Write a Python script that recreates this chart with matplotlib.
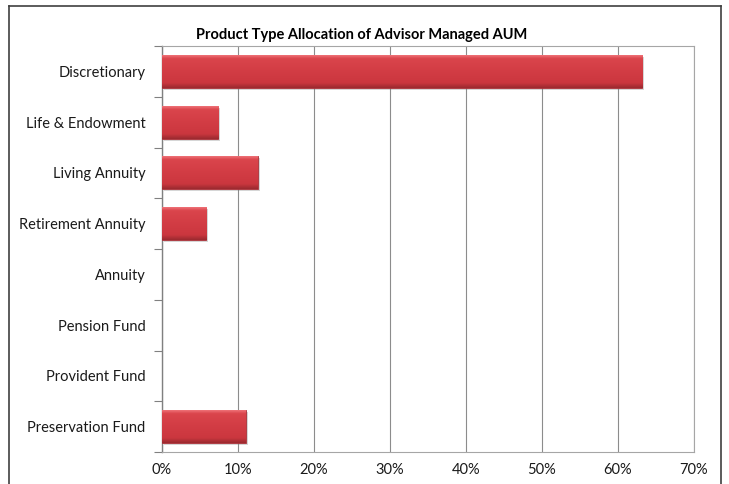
import matplotlib
matplotlib.use("Agg")
import matplotlib.pyplot as plt
import numpy as np
from matplotlib.colors import LinearSegmentedColormap
from matplotlib.lines import Line2D
from matplotlib.ticker import FuncFormatter

categories = ["Discretionary", "Life & Endowment", "Living Annuity", "Retirement Annuity",
              "Annuity", "Pension Fund", "Provident Fund", "Preservation Fund"]
values = [63.2, 7.4, 12.6, 5.8, 0.0, 0.0, 0.0, 11.0]
x_ticks = [0, 10, 20, 30, 40, 50, 60, 70]
title = "Product Type Allocation of Advisor Managed AUM"

plt.rcParams['font.family'] = ['Lato', 'DejaVu Sans']

fig = plt.figure(figsize=(7.29, 4.84), dpi=100)
ax = fig.add_axes([162/729, (484-452)/484, (694-162)/729, (452-46)/484])

n = len(categories)
ypos = np.arange(n)[::-1]
cmap = LinearSegmentedColormap.from_list("barg", [
    (0.0, "#EE7177"), (0.1, "#DA454C"), (0.5, "#D23C44"), (0.85, "#CB373F"), (1.0, "#9C2A30")])
grad = np.linspace(0, 1, 64).reshape(-1, 1)
h = 0.65
nz = [v > 0 for v in values]
# shadows
ax.barh(ypos - 0.04, values, height=h, left=0.25, color="#7A7A7A", alpha=0.30,
        linewidth=0, zorder=2)
bars = ax.barh(ypos, values, height=h, color="#D23C44", linewidth=0, zorder=3)
for b, v in zip(bars, values):
    if v <= 0:
        b.set_visible(False)
        continue
    b.set_edgecolor("#A8323A")
    b.set_linewidth(0.6)
    x0, y0 = b.get_x(), b.get_y()
    im = ax.imshow(grad, cmap=cmap, aspect="auto", zorder=3.5,
                   extent=(x0, x0 + b.get_width(), y0, y0 + b.get_height()),
                   interpolation="bilinear")
    im.set_clip_path(b)

ax.set_xlim(0, 70)
ax.set_ylim(-0.5, n - 0.5)
ax.set_xticks(x_ticks)
ax.xaxis.set_major_formatter(FuncFormatter(lambda x, p: f"{int(x)}%"))
ax.set_yticks(ypos)
ax.set_yticklabels(categories)
ax.set_yticks(np.arange(-0.5, n, 1.0), minor=True)
ax.tick_params(axis="y", which="major", length=0, pad=12, labelsize=10.5, colors="#1a1a1a")
ax.tick_params(axis="y", which="minor", length=6, color="#808080", width=0.8)
ax.tick_params(axis="x", length=0, pad=8, labelsize=10.5, colors="#1a1a1a")
ax.grid(axis="x", color="#8C8C8C", linewidth=0.8, zorder=1)
ax.set_axisbelow(True)
for s in ["top", "right", "bottom"]:
    ax.spines[s].set_color("#A6A6A6")
    ax.spines[s].set_linewidth(0.8)
ax.spines["left"].set_color("#808080")
ax.spines["left"].set_linewidth(1.0)

fig.text(362/729, (484-35)/484, title, ha="center", va="center", fontsize=10.5, fontweight="bold")

# outer frame
fc = "#404040"
fig.add_artist(Line2D([8.5/729, 8.5/729], [0, (484-5.5)/484], color=fc, lw=1.2, transform=fig.transFigure))
fig.add_artist(Line2D([720.5/729, 720.5/729], [0, (484-5.5)/484], color=fc, lw=1.2, transform=fig.transFigure))
fig.add_artist(Line2D([8.5/729, 720.5/729], [(484-5.5)/484, (484-5.5)/484], color=fc, lw=1.2, transform=fig.transFigure))

fig.savefig("out.png", dpi=100)
